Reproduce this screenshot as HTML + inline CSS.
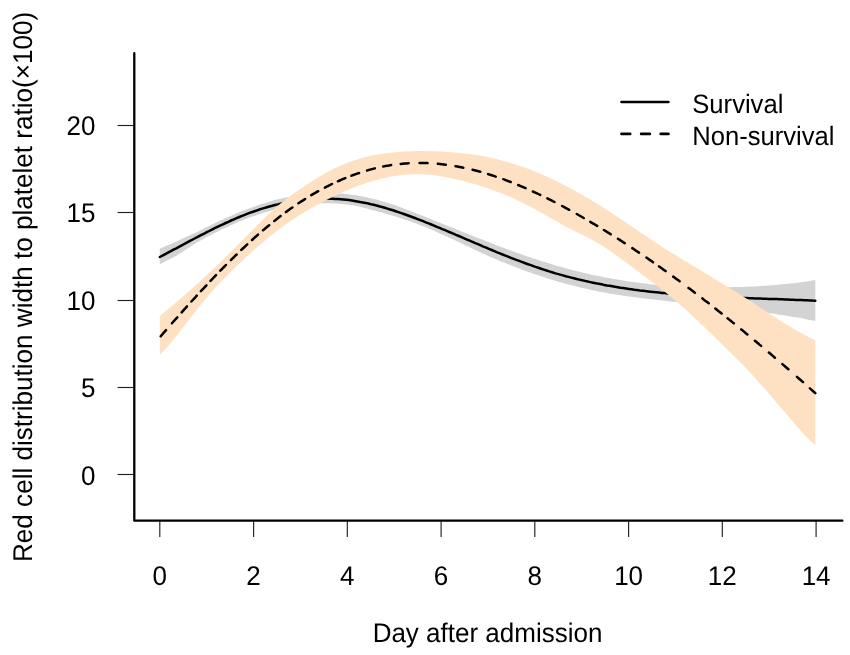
<!DOCTYPE html>
<html><head><meta charset="utf-8"><style>
html,body{margin:0;padding:0;background:#fff;}
svg{display:block;filter:blur(0.3px);}
text{font-family:"Liberation Sans",sans-serif;font-size:26px;fill:#000;text-rendering:geometricPrecision;}
</style></head><body>
<svg width="850" height="655" viewBox="0 0 850 655">
<rect width="850" height="655" fill="#fff"/>
<path d="M159.8,248.7 L162.5,247.5 L165.3,246.3 L168.0,245.1 L170.8,243.9 L173.5,242.7 L176.3,241.5 L179.0,240.2 L181.7,239.0 L184.5,237.8 L187.2,236.5 L190.0,235.3 L192.7,234.0 L195.5,232.7 L198.2,231.4 L200.9,230.0 L203.7,228.6 L206.4,227.3 L209.2,225.9 L211.9,224.6 L214.7,223.2 L217.4,221.9 L220.1,220.6 L222.9,219.4 L225.6,218.1 L228.4,216.9 L231.1,215.7 L233.9,214.5 L236.6,213.3 L239.3,212.2 L242.1,211.1 L244.8,210.0 L247.6,208.9 L250.3,207.9 L253.1,206.9 L255.8,205.9 L258.5,205.0 L261.3,204.1 L264.0,203.2 L266.8,202.4 L269.5,201.6 L272.2,200.8 L275.0,200.1 L277.7,199.3 L280.5,198.7 L283.2,198.0 L286.0,197.4 L288.7,196.9 L291.4,196.3 L294.2,195.9 L296.9,195.4 L299.7,195.0 L302.4,194.6 L305.2,194.3 L307.9,194.0 L310.6,193.8 L313.4,193.5 L316.1,193.4 L318.9,193.2 L321.6,193.1 L324.4,193.0 L327.1,193.0 L329.8,193.0 L332.6,193.1 L335.3,193.2 L338.1,193.3 L340.8,193.5 L343.6,193.8 L346.3,194.0 L349.0,194.3 L351.8,194.7 L354.5,195.1 L357.3,195.5 L360.0,196.0 L362.8,196.5 L365.5,197.1 L368.2,197.7 L371.0,198.3 L373.7,198.9 L376.5,199.6 L379.2,200.4 L382.0,201.2 L384.7,202.0 L387.4,202.8 L390.2,203.7 L392.9,204.6 L395.7,205.6 L398.4,206.6 L401.2,207.5 L403.9,208.6 L406.6,209.6 L409.4,210.6 L412.1,211.7 L414.9,212.8 L417.6,213.9 L420.4,214.9 L423.1,216.0 L425.8,217.1 L428.6,218.2 L431.3,219.3 L434.1,220.4 L436.8,221.5 L439.6,222.6 L442.3,223.7 L445.0,224.8 L447.8,225.9 L450.5,227.0 L453.3,228.1 L456.0,229.2 L458.8,230.3 L461.5,231.4 L464.2,232.5 L467.0,233.6 L469.7,234.7 L472.5,235.8 L475.2,236.9 L478.0,237.9 L480.7,239.0 L483.4,240.1 L486.2,241.2 L488.9,242.2 L491.7,243.3 L494.4,244.4 L497.1,245.4 L499.9,246.5 L502.6,247.5 L505.4,248.6 L508.1,249.6 L510.9,250.6 L513.6,251.6 L516.3,252.6 L519.1,253.5 L521.8,254.5 L524.6,255.4 L527.3,256.4 L530.1,257.3 L532.8,258.2 L535.5,259.1 L538.3,260.0 L541.0,260.9 L543.8,261.8 L546.5,262.6 L549.3,263.5 L552.0,264.3 L554.7,265.2 L557.5,266.0 L560.2,266.8 L563.0,267.5 L565.7,268.3 L568.5,269.0 L571.2,269.8 L573.9,270.5 L576.7,271.2 L579.4,271.8 L582.2,272.5 L584.9,273.1 L587.7,273.8 L590.4,274.4 L593.1,275.0 L595.9,275.5 L598.6,276.1 L601.4,276.6 L604.1,277.2 L606.9,277.7 L609.6,278.2 L612.3,278.7 L615.1,279.2 L617.8,279.6 L620.6,280.1 L623.3,280.5 L626.1,280.9 L628.8,281.4 L631.5,281.8 L634.3,282.1 L637.0,282.5 L639.8,282.9 L642.5,283.2 L645.3,283.6 L648.0,283.9 L650.7,284.2 L653.5,284.5 L656.2,284.8 L659.0,285.0 L661.7,285.2 L664.5,285.5 L667.2,285.7 L669.9,285.8 L672.7,286.0 L675.4,286.2 L678.2,286.3 L680.9,286.4 L683.7,286.5 L686.4,286.6 L689.1,286.7 L691.9,286.8 L694.6,286.9 L697.4,287.0 L700.1,287.1 L702.9,287.1 L705.6,287.2 L708.3,287.2 L711.1,287.2 L713.8,287.3 L716.6,287.3 L719.3,287.3 L722.0,287.3 L724.8,287.2 L727.5,287.2 L730.3,287.2 L733.0,287.1 L735.8,287.0 L738.5,287.0 L741.2,286.9 L744.0,286.8 L746.7,286.7 L749.5,286.6 L752.2,286.5 L755.0,286.4 L757.7,286.2 L760.4,286.1 L763.2,285.9 L765.9,285.7 L768.7,285.5 L771.4,285.3 L774.2,285.1 L776.9,284.8 L779.6,284.6 L782.4,284.3 L785.1,284.1 L787.9,283.8 L790.6,283.5 L793.4,283.2 L796.1,282.9 L798.8,282.6 L801.6,282.2 L804.3,281.8 L807.1,281.4 L809.8,280.9 L812.6,280.4 L815.3,279.9 L815.3,321.1 L812.6,320.5 L809.8,319.9 L807.1,319.4 L804.3,318.8 L801.6,318.3 L798.8,317.8 L796.1,317.3 L793.4,316.9 L790.6,316.4 L787.9,316.0 L785.1,315.5 L782.4,315.1 L779.6,314.7 L776.9,314.3 L774.2,313.8 L771.4,313.4 L768.7,313.0 L765.9,312.7 L763.2,312.3 L760.4,311.9 L757.7,311.6 L755.0,311.2 L752.2,310.9 L749.5,310.5 L746.7,310.2 L744.0,309.9 L741.2,309.5 L738.5,309.2 L735.8,308.9 L733.0,308.5 L730.3,308.2 L727.5,307.9 L724.8,307.6 L722.0,307.3 L719.3,306.9 L716.6,306.6 L713.8,306.3 L711.1,306.0 L708.3,305.7 L705.6,305.4 L702.9,305.1 L700.1,304.9 L697.4,304.6 L694.6,304.3 L691.9,304.0 L689.1,303.7 L686.4,303.4 L683.7,303.1 L680.9,302.7 L678.2,302.4 L675.4,302.1 L672.7,301.8 L669.9,301.4 L667.2,301.1 L664.5,300.8 L661.7,300.5 L659.0,300.2 L656.2,299.8 L653.5,299.5 L650.7,299.2 L648.0,298.9 L645.3,298.6 L642.5,298.2 L639.8,297.9 L637.0,297.6 L634.3,297.2 L631.5,296.8 L628.8,296.4 L626.1,296.1 L623.3,295.7 L620.6,295.2 L617.8,294.8 L615.1,294.4 L612.3,293.9 L609.6,293.4 L606.9,293.0 L604.1,292.5 L601.4,291.9 L598.6,291.4 L595.9,290.9 L593.1,290.3 L590.4,289.7 L587.7,289.1 L584.9,288.5 L582.2,287.9 L579.4,287.2 L576.7,286.5 L573.9,285.8 L571.2,285.1 L568.5,284.4 L565.7,283.7 L563.0,282.9 L560.2,282.2 L557.5,281.4 L554.7,280.6 L552.0,279.7 L549.3,278.9 L546.5,278.0 L543.8,277.1 L541.0,276.2 L538.3,275.3 L535.5,274.4 L532.8,273.4 L530.1,272.4 L527.3,271.5 L524.6,270.5 L521.8,269.4 L519.1,268.4 L516.3,267.4 L513.6,266.3 L510.9,265.3 L508.1,264.2 L505.4,263.1 L502.6,262.0 L499.9,260.9 L497.1,259.8 L494.4,258.6 L491.7,257.4 L488.9,256.2 L486.2,255.0 L483.4,253.8 L480.7,252.5 L478.0,251.2 L475.2,249.9 L472.5,248.7 L469.7,247.3 L467.0,246.0 L464.2,244.7 L461.5,243.4 L458.8,242.1 L456.0,240.8 L453.3,239.5 L450.5,238.2 L447.8,236.9 L445.0,235.7 L442.3,234.4 L439.6,233.2 L436.8,231.9 L434.1,230.8 L431.3,229.6 L428.6,228.4 L425.8,227.3 L423.1,226.2 L420.4,225.2 L417.6,224.1 L414.9,223.1 L412.1,222.1 L409.4,221.1 L406.6,220.2 L403.9,219.3 L401.2,218.4 L398.4,217.5 L395.7,216.6 L392.9,215.8 L390.2,214.9 L387.4,214.1 L384.7,213.4 L382.0,212.6 L379.2,211.9 L376.5,211.1 L373.7,210.4 L371.0,209.7 L368.2,209.0 L365.5,208.2 L362.8,207.5 L360.0,206.8 L357.3,206.2 L354.5,205.6 L351.8,205.1 L349.0,204.7 L346.3,204.4 L343.6,204.1 L340.8,203.9 L338.1,203.7 L335.3,203.5 L332.6,203.4 L329.8,203.3 L327.1,203.2 L324.4,203.2 L321.6,203.3 L318.9,203.3 L316.1,203.4 L313.4,203.6 L310.6,203.8 L307.9,204.0 L305.2,204.3 L302.4,204.6 L299.7,204.9 L296.9,205.3 L294.2,205.7 L291.4,206.2 L288.7,206.6 L286.0,207.2 L283.2,207.7 L280.5,208.3 L277.7,209.0 L275.0,209.6 L272.2,210.4 L269.5,211.1 L266.8,211.9 L264.0,212.7 L261.3,213.5 L258.5,214.4 L255.8,215.4 L253.1,216.3 L250.3,217.3 L247.6,218.3 L244.8,219.4 L242.1,220.5 L239.3,221.6 L236.6,222.8 L233.9,224.0 L231.1,225.2 L228.4,226.4 L225.6,227.7 L222.9,229.0 L220.1,230.3 L217.4,231.7 L214.7,233.0 L211.9,234.4 L209.2,235.8 L206.4,237.3 L203.7,238.7 L200.9,240.2 L198.2,241.7 L195.5,243.3 L192.7,245.1 L190.0,246.9 L187.2,248.7 L184.5,250.6 L181.7,252.4 L179.0,254.1 L176.3,255.7 L173.5,257.2 L170.8,258.7 L168.0,260.1 L165.3,261.6 L162.5,263.0 L159.8,264.3 Z" fill="#d3d3d3"/>
<path d="M159.8,257.0 L162.5,255.6 L165.3,254.1 L168.0,252.6 L170.8,251.2 L173.5,249.7 L176.3,248.3 L179.0,246.8 L181.7,245.3 L184.5,243.9 L187.2,242.4 L190.0,240.9 L192.7,239.5 L195.5,238.0 L198.2,236.6 L200.9,235.2 L203.7,233.8 L206.4,232.4 L209.2,231.0 L211.9,229.6 L214.7,228.2 L217.4,226.9 L220.1,225.6 L222.9,224.3 L225.6,223.0 L228.4,221.8 L231.1,220.5 L233.9,219.3 L236.6,218.1 L239.3,217.0 L242.1,215.9 L244.8,214.8 L247.6,213.7 L250.3,212.7 L253.1,211.7 L255.8,210.8 L258.5,209.8 L261.3,208.9 L264.0,208.1 L266.8,207.3 L269.5,206.5 L272.2,205.8 L275.0,205.0 L277.7,204.4 L280.5,203.7 L283.2,203.1 L286.0,202.6 L288.7,202.0 L291.4,201.6 L294.2,201.1 L296.9,200.7 L299.7,200.3 L302.4,200.0 L305.2,199.7 L307.9,199.4 L310.6,199.2 L313.4,199.0 L316.1,198.8 L318.9,198.7 L321.6,198.7 L324.4,198.6 L327.1,198.6 L329.8,198.7 L332.6,198.8 L335.3,198.9 L338.1,199.1 L340.8,199.3 L343.6,199.5 L346.3,199.8 L349.0,200.1 L351.8,200.5 L354.5,200.9 L357.3,201.4 L360.0,201.9 L362.8,202.4 L365.5,202.9 L368.2,203.5 L371.0,204.2 L373.7,204.8 L376.5,205.5 L379.2,206.3 L382.0,207.0 L384.7,207.8 L387.4,208.6 L390.2,209.5 L392.9,210.3 L395.7,211.2 L398.4,212.1 L401.2,213.1 L403.9,214.0 L406.6,215.0 L409.4,216.0 L412.1,217.0 L414.9,218.0 L417.6,219.1 L420.4,220.2 L423.1,221.2 L425.8,222.3 L428.6,223.4 L431.3,224.5 L434.1,225.7 L436.8,226.8 L439.6,227.9 L442.3,229.1 L445.0,230.2 L447.8,231.4 L450.5,232.5 L453.3,233.7 L456.0,234.9 L458.8,236.0 L461.5,237.2 L464.2,238.4 L467.0,239.6 L469.7,240.7 L472.5,241.9 L475.2,243.1 L478.0,244.2 L480.7,245.4 L483.4,246.6 L486.2,247.7 L488.9,248.9 L491.7,250.0 L494.4,251.1 L497.1,252.3 L499.9,253.4 L502.6,254.5 L505.4,255.6 L508.1,256.7 L510.9,257.8 L513.6,258.8 L516.3,259.9 L519.1,260.9 L521.8,261.9 L524.6,263.0 L527.3,264.0 L530.1,264.9 L532.8,265.9 L535.5,266.9 L538.3,267.8 L541.0,268.7 L543.8,269.6 L546.5,270.5 L549.3,271.4 L552.0,272.2 L554.7,273.1 L557.5,273.9 L560.2,274.6 L563.0,275.4 L565.7,276.2 L568.5,276.9 L571.2,277.6 L573.9,278.3 L576.7,279.0 L579.4,279.6 L582.2,280.3 L584.9,280.9 L587.7,281.5 L590.4,282.1 L593.1,282.7 L595.9,283.3 L598.6,283.8 L601.4,284.3 L604.1,284.9 L606.9,285.4 L609.6,285.8 L612.3,286.3 L615.1,286.8 L617.8,287.2 L620.6,287.7 L623.3,288.1 L626.1,288.5 L628.8,288.9 L631.5,289.3 L634.3,289.7 L637.0,290.0 L639.8,290.4 L642.5,290.7 L645.3,291.1 L648.0,291.4 L650.7,291.7 L653.5,292.0 L656.2,292.3 L659.0,292.6 L661.7,292.9 L664.5,293.1 L667.2,293.4 L669.9,293.6 L672.7,293.9 L675.4,294.1 L678.2,294.3 L680.9,294.5 L683.7,294.7 L686.4,294.9 L689.1,295.1 L691.9,295.3 L694.6,295.5 L697.4,295.7 L700.1,295.9 L702.9,296.0 L705.6,296.2 L708.3,296.3 L711.1,296.5 L713.8,296.6 L716.6,296.8 L719.3,296.9 L722.0,297.0 L724.8,297.2 L727.5,297.3 L730.3,297.4 L733.0,297.5 L735.8,297.6 L738.5,297.7 L741.2,297.9 L744.0,298.0 L746.7,298.1 L749.5,298.2 L752.2,298.3 L755.0,298.4 L757.7,298.5 L760.4,298.6 L763.2,298.7 L765.9,298.8 L768.7,298.9 L771.4,299.0 L774.2,299.1 L776.9,299.1 L779.6,299.2 L782.4,299.3 L785.1,299.4 L787.9,299.5 L790.6,299.7 L793.4,299.8 L796.1,299.9 L798.8,300.0 L801.6,300.1 L804.3,300.2 L807.1,300.3 L809.8,300.4 L812.6,300.6 L815.3,300.7" fill="none" stroke="#000" stroke-width="2.5" stroke-linejoin="round" stroke-linecap="round"/>
<path d="M159.8,316.0 L162.5,313.8 L165.3,311.5 L168.0,309.2 L170.8,307.0 L173.5,304.7 L176.3,302.3 L179.0,300.0 L181.7,297.6 L184.5,295.2 L187.2,292.8 L190.0,290.4 L192.7,287.9 L195.5,285.5 L198.2,283.0 L200.9,280.5 L203.7,277.9 L206.4,275.4 L209.2,272.8 L211.9,270.3 L214.7,267.7 L217.4,265.0 L220.1,262.4 L222.9,259.7 L225.6,257.1 L228.4,254.4 L231.1,251.7 L233.9,248.9 L236.6,246.2 L239.3,243.4 L242.1,240.6 L244.8,237.8 L247.6,235.0 L250.3,232.2 L253.1,229.4 L255.8,226.7 L258.5,223.9 L261.3,221.2 L264.0,218.5 L266.8,215.8 L269.5,213.3 L272.2,210.7 L275.0,208.3 L277.7,205.9 L280.5,203.6 L283.2,201.4 L286.0,199.2 L288.7,197.1 L291.4,195.1 L294.2,193.1 L296.9,191.2 L299.7,189.2 L302.4,187.4 L305.2,185.5 L307.9,183.7 L310.6,182.0 L313.4,180.2 L316.1,178.6 L318.9,176.9 L321.6,175.3 L324.4,173.8 L327.1,172.3 L329.8,170.8 L332.6,169.4 L335.3,168.1 L338.1,166.8 L340.8,165.5 L343.6,164.4 L346.3,163.2 L349.0,162.2 L351.8,161.2 L354.5,160.2 L357.3,159.4 L360.0,158.5 L362.8,157.8 L365.5,157.1 L368.2,156.4 L371.0,155.8 L373.7,155.2 L376.5,154.7 L379.2,154.2 L382.0,153.8 L384.7,153.4 L387.4,153.0 L390.2,152.7 L392.9,152.4 L395.7,152.2 L398.4,152.0 L401.2,151.8 L403.9,151.6 L406.6,151.4 L409.4,151.3 L412.1,151.2 L414.9,151.1 L417.6,151.1 L420.4,151.1 L423.1,151.1 L425.8,151.1 L428.6,151.1 L431.3,151.2 L434.1,151.3 L436.8,151.4 L439.6,151.5 L442.3,151.6 L445.0,151.8 L447.8,152.0 L450.5,152.2 L453.3,152.4 L456.0,152.6 L458.8,152.9 L461.5,153.1 L464.2,153.4 L467.0,153.8 L469.7,154.1 L472.5,154.5 L475.2,154.9 L478.0,155.3 L480.7,155.8 L483.4,156.3 L486.2,156.8 L488.9,157.4 L491.7,158.0 L494.4,158.6 L497.1,159.3 L499.9,160.0 L502.6,160.7 L505.4,161.4 L508.1,162.2 L510.9,163.0 L513.6,163.9 L516.3,164.7 L519.1,165.7 L521.8,166.6 L524.6,167.6 L527.3,168.6 L530.1,169.6 L532.8,170.7 L535.5,171.8 L538.3,172.9 L541.0,174.1 L543.8,175.3 L546.5,176.5 L549.3,177.7 L552.0,179.0 L554.7,180.3 L557.5,181.7 L560.2,183.0 L563.0,184.4 L565.7,185.8 L568.5,187.3 L571.2,188.8 L573.9,190.3 L576.7,191.8 L579.4,193.3 L582.2,194.9 L584.9,196.5 L587.7,198.1 L590.4,199.7 L593.1,201.4 L595.9,203.1 L598.6,204.8 L601.4,206.5 L604.1,208.2 L606.9,210.0 L609.6,211.7 L612.3,213.5 L615.1,215.3 L617.8,217.1 L620.6,219.0 L623.3,220.8 L626.1,222.7 L628.8,224.5 L631.5,226.4 L634.3,228.2 L637.0,230.1 L639.8,232.0 L642.5,233.8 L645.3,235.7 L648.0,237.5 L650.7,239.4 L653.5,241.2 L656.2,243.0 L659.0,244.7 L661.7,246.5 L664.5,248.3 L667.2,250.0 L669.9,251.7 L672.7,253.4 L675.4,255.1 L678.2,256.8 L680.9,258.5 L683.7,260.2 L686.4,261.8 L689.1,263.5 L691.9,265.2 L694.6,266.8 L697.4,268.5 L700.1,270.1 L702.9,271.8 L705.6,273.4 L708.3,275.1 L711.1,276.7 L713.8,278.4 L716.6,280.0 L719.3,281.7 L722.0,283.4 L724.8,285.0 L727.5,286.7 L730.3,288.4 L733.0,290.1 L735.8,291.8 L738.5,293.5 L741.2,295.3 L744.0,297.0 L746.7,298.8 L749.5,300.5 L752.2,302.3 L755.0,304.1 L757.7,305.9 L760.4,307.7 L763.2,309.5 L765.9,311.3 L768.7,313.2 L771.4,315.0 L774.2,316.7 L776.9,318.5 L779.6,320.3 L782.4,322.0 L785.1,323.7 L787.9,325.4 L790.6,327.1 L793.4,328.7 L796.1,330.3 L798.8,331.8 L801.6,333.3 L804.3,334.8 L807.1,336.2 L809.8,337.6 L812.6,338.9 L815.3,340.1 L815.3,444.8 L812.6,442.8 L809.8,440.3 L807.1,437.6 L804.3,434.7 L801.6,431.7 L798.8,428.6 L796.1,425.4 L793.4,422.2 L790.6,419.0 L787.9,415.8 L785.1,412.6 L782.4,409.4 L779.6,406.1 L776.9,402.9 L774.2,399.7 L771.4,396.5 L768.7,393.3 L765.9,390.1 L763.2,387.0 L760.4,383.9 L757.7,380.8 L755.0,377.8 L752.2,374.8 L749.5,371.8 L746.7,369.0 L744.0,366.1 L741.2,363.3 L738.5,360.6 L735.8,357.8 L733.0,355.1 L730.3,352.4 L727.5,349.7 L724.8,347.0 L722.0,344.3 L719.3,341.7 L716.6,339.0 L713.8,336.3 L711.1,333.6 L708.3,331.0 L705.6,328.3 L702.9,325.7 L700.1,323.1 L697.4,320.5 L694.6,317.9 L691.9,315.3 L689.1,312.8 L686.4,310.3 L683.7,307.8 L680.9,305.4 L678.2,303.0 L675.4,300.7 L672.7,298.3 L669.9,296.1 L667.2,293.8 L664.5,291.6 L661.7,289.4 L659.0,287.3 L656.2,285.1 L653.5,283.0 L650.7,280.9 L648.0,278.9 L645.3,276.8 L642.5,274.8 L639.8,272.7 L637.0,270.7 L634.3,268.7 L631.5,266.6 L628.8,264.6 L626.1,262.6 L623.3,260.5 L620.6,258.5 L617.8,256.5 L615.1,254.5 L612.3,252.5 L609.6,250.6 L606.9,248.7 L604.1,246.9 L601.4,245.1 L598.6,243.5 L595.9,241.9 L593.1,240.4 L590.4,239.0 L587.7,237.6 L584.9,236.2 L582.2,234.8 L579.4,233.5 L576.7,232.1 L573.9,230.7 L571.2,229.3 L568.5,227.9 L565.7,226.4 L563.0,224.9 L560.2,223.4 L557.5,221.8 L554.7,220.3 L552.0,218.8 L549.3,217.2 L546.5,215.7 L543.8,214.1 L541.0,212.6 L538.3,211.1 L535.5,209.5 L532.8,208.1 L530.1,206.6 L527.3,205.2 L524.6,203.8 L521.8,202.4 L519.1,201.1 L516.3,199.8 L513.6,198.5 L510.9,197.3 L508.1,196.1 L505.4,195.0 L502.6,193.8 L499.9,192.7 L497.1,191.7 L494.4,190.7 L491.7,189.7 L488.9,188.7 L486.2,187.8 L483.4,186.9 L480.7,186.0 L478.0,185.1 L475.2,184.3 L472.5,183.5 L469.7,182.8 L467.0,182.0 L464.2,181.3 L461.5,180.6 L458.8,179.9 L456.0,179.2 L453.3,178.6 L450.5,178.0 L447.8,177.4 L445.0,176.9 L442.3,176.4 L439.6,176.0 L436.8,175.5 L434.1,175.2 L431.3,174.9 L428.6,174.6 L425.8,174.4 L423.1,174.3 L420.4,174.2 L417.6,174.2 L414.9,174.2 L412.1,174.3 L409.4,174.4 L406.6,174.6 L403.9,174.8 L401.2,175.1 L398.4,175.5 L395.7,175.9 L392.9,176.3 L390.2,176.8 L387.4,177.3 L384.7,177.9 L382.0,178.5 L379.2,179.2 L376.5,179.9 L373.7,180.7 L371.0,181.5 L368.2,182.3 L365.5,183.2 L362.8,184.2 L360.0,185.1 L357.3,186.1 L354.5,187.2 L351.8,188.3 L349.0,189.4 L346.3,190.5 L343.6,191.7 L340.8,193.0 L338.1,194.2 L335.3,195.5 L332.6,196.8 L329.8,198.2 L327.1,199.6 L324.4,201.0 L321.6,202.4 L318.9,203.9 L316.1,205.4 L313.4,206.9 L310.6,208.5 L307.9,210.1 L305.2,211.7 L302.4,213.4 L299.7,215.1 L296.9,216.9 L294.2,218.7 L291.4,220.5 L288.7,222.4 L286.0,224.3 L283.2,226.2 L280.5,228.2 L277.7,230.3 L275.0,232.4 L272.2,234.5 L269.5,236.7 L266.8,239.0 L264.0,241.3 L261.3,243.6 L258.5,245.9 L255.8,248.3 L253.1,250.8 L250.3,253.3 L247.6,255.8 L244.8,258.3 L242.1,260.9 L239.3,263.5 L236.6,266.1 L233.9,268.8 L231.1,271.4 L228.4,274.2 L225.6,277.0 L222.9,279.8 L220.1,282.7 L217.4,285.6 L214.7,288.6 L211.9,291.6 L209.2,294.7 L206.4,297.9 L203.7,301.2 L200.9,304.5 L198.2,307.9 L195.5,311.4 L192.7,314.9 L190.0,318.5 L187.2,322.0 L184.5,325.6 L181.7,329.2 L179.0,332.7 L176.3,336.2 L173.5,339.5 L170.8,342.8 L168.0,346.0 L165.3,349.1 L162.5,352.0 L159.8,354.8 Z" fill="#fde1c2"/>
<path d="M160.7,336.2 L162.0,334.7 L163.3,333.2 L164.7,331.7 L166.0,330.1 M172.0,323.3 L173.3,321.8 L174.6,320.3 L175.9,318.8 L177.3,317.3 M181.7,312.4 L183.0,310.9 L184.3,309.4 L185.7,307.9 L187.0,306.4 M191.4,301.5 L192.8,300.0 L194.1,298.6 L195.5,297.1 L196.8,295.6 M200.9,291.2 L202.3,289.7 L203.6,288.3 L205.0,286.8 L206.4,285.3 M210.5,280.9 L211.9,279.5 L213.3,278.0 L214.6,276.6 L216.0,275.1 M220.3,270.7 L221.7,269.3 L223.1,267.9 L224.5,266.5 L225.9,265.0 M230.9,260.1 L232.3,258.7 L233.7,257.3 L235.1,255.9 L236.6,254.5 M241.3,249.9 L242.8,248.5 L244.3,247.2 L245.7,245.8 L247.2,244.4 M252.1,240.0 L253.5,238.6 L255.0,237.3 L256.5,236.0 L258.0,234.6 M263.0,230.3 L264.6,229.0 L266.1,227.7 L267.6,226.4 L269.2,225.2 M274.3,221.0 L275.9,219.8 L277.4,218.5 L279.0,217.3 L280.6,216.1 M285.9,212.1 L287.5,210.9 L289.1,209.8 L290.8,208.6 L292.4,207.5 M298.4,203.3 L300.1,202.2 L301.8,201.2 L303.4,200.1 L305.1,199.0 M311.3,195.2 L313.0,194.2 L314.8,193.2 L316.5,192.2 L318.2,191.2 M324.9,187.6 L326.7,186.7 L328.4,185.8 L330.2,184.9 L332.0,184.0 M337.9,181.3 L339.7,180.5 L341.6,179.7 L343.4,178.9 L345.3,178.1 M351.4,175.7 L353.3,175.0 L355.2,174.3 L357.1,173.6 L359.0,173.0 M367.1,170.5 L369.0,169.9 L371.0,169.4 L372.9,168.9 L374.8,168.4 M383.2,166.5 L385.1,166.1 L387.1,165.8 L389.1,165.5 L391.1,165.1 M400.7,163.9 L402.7,163.7 L404.7,163.5 L406.7,163.4 L408.7,163.3 M419.5,162.9 L421.5,163.0 L423.5,163.0 L425.5,163.0 L427.5,163.1 M437.8,163.8 L439.8,164.0 L441.8,164.2 L443.8,164.4 L445.8,164.7 M455.5,166.2 L457.4,166.5 L459.4,166.9 L461.4,167.3 L463.3,167.7 M472.6,169.8 L474.6,170.3 L476.5,170.8 L478.4,171.3 L480.3,171.8 M488.1,174.1 L490.0,174.7 L491.9,175.3 L493.8,175.9 L495.7,176.6 M503.3,179.2 L505.1,179.9 L507.0,180.6 L508.9,181.3 L510.7,182.0 M518.2,185.0 L520.1,185.8 L521.9,186.6 L523.7,187.4 L525.6,188.2 M532.9,191.5 L534.7,192.3 L536.5,193.1 L538.3,194.0 L540.2,194.9 M547.4,198.4 L549.2,199.3 L551.0,200.2 L552.7,201.1 L554.5,202.0 M562.1,206.0 L563.9,206.9 L565.6,207.9 L567.4,208.8 L569.2,209.8 M576.8,214.0 L578.5,215.0 L580.3,216.0 L582.0,217.0 L583.7,218.0 M590.3,221.8 L592.0,222.8 L593.7,223.8 L595.4,224.9 L597.2,225.9 M603.9,230.0 L605.6,231.0 L607.3,232.1 L609.0,233.1 L610.7,234.2 M618.0,238.8 L619.7,239.9 L621.4,241.0 L623.0,242.1 L624.7,243.1 M632.3,248.1 L634.0,249.2 L635.7,250.4 L637.3,251.5 L639.0,252.6 M646.4,257.6 L648.1,258.8 L649.7,259.9 L651.4,261.1 L653.0,262.2 M659.0,266.4 L660.7,267.6 L662.3,268.7 L663.9,269.9 L665.6,271.1 M673.2,276.6 L674.8,277.7 L676.4,278.9 L678.0,280.1 L679.6,281.3 M688.5,287.9 L690.1,289.1 L691.7,290.3 L693.3,291.5 L694.9,292.7 M702.4,298.4 L703.9,299.7 L705.5,300.9 L707.1,302.1 L708.7,303.3 M715.3,308.5 L716.9,309.8 L718.4,311.0 L720.0,312.2 L721.6,313.5 M727.6,318.3 L729.2,319.6 L730.7,320.8 L732.3,322.1 L733.8,323.3 M741.2,329.4 L742.8,330.6 L744.3,331.9 L745.8,333.2 L747.4,334.4 M754.9,340.7 L756.5,342.0 L758.0,343.3 L759.5,344.6 L761.1,345.9 M768.9,352.5 L770.4,353.8 L771.9,355.1 L773.4,356.4 L774.9,357.7 M782.4,364.1 L783.9,365.4 L785.4,366.7 L786.9,368.0 L788.4,369.3 M797.0,376.9 L798.5,378.2 L800.0,379.5 L801.5,380.8 L803.0,382.2 M809.9,388.4 L811.3,389.6 L812.6,390.8 L814.0,392.0 L815.3,393.2" fill="none" stroke="#000" stroke-width="2.5" stroke-linecap="round" stroke-linejoin="round"/>
<path d="M134.3,53.2 L134.3,520.7 L842.4,520.7" fill="none" stroke="#000" stroke-width="2.3" stroke-linecap="round" stroke-linejoin="round"/>
<line x1="159.8" y1="521" x2="159.8" y2="537" stroke="#222" stroke-width="1.15"/>
<line x1="253.6" y1="521" x2="253.6" y2="537" stroke="#222" stroke-width="1.15"/>
<line x1="347.3" y1="521" x2="347.3" y2="537" stroke="#222" stroke-width="1.15"/>
<line x1="441.1" y1="521" x2="441.1" y2="537" stroke="#222" stroke-width="1.15"/>
<line x1="534.8" y1="521" x2="534.8" y2="537" stroke="#222" stroke-width="1.15"/>
<line x1="628.6" y1="521" x2="628.6" y2="537" stroke="#222" stroke-width="1.15"/>
<line x1="722.3" y1="521" x2="722.3" y2="537" stroke="#222" stroke-width="1.15"/>
<line x1="816.1" y1="521" x2="816.1" y2="537" stroke="#222" stroke-width="1.15"/>
<line x1="117.6" y1="474.5" x2="134" y2="474.5" stroke="#222" stroke-width="1.15"/>
<line x1="117.6" y1="387.5" x2="134" y2="387.5" stroke="#222" stroke-width="1.15"/>
<line x1="117.6" y1="300.5" x2="134" y2="300.5" stroke="#222" stroke-width="1.15"/>
<line x1="117.6" y1="212.5" x2="134" y2="212.5" stroke="#222" stroke-width="1.15"/>
<line x1="117.6" y1="125.5" x2="134" y2="125.5" stroke="#222" stroke-width="1.15"/>
<text transform="translate(159.8,584.9) scale(1,1.038)" text-anchor="middle">0</text>
<text transform="translate(253.6,584.9) scale(1,1.038)" text-anchor="middle">2</text>
<text transform="translate(347.3,584.9) scale(1,1.038)" text-anchor="middle">4</text>
<text transform="translate(441.1,584.9) scale(1,1.038)" text-anchor="middle">6</text>
<text transform="translate(534.8,584.9) scale(1,1.038)" text-anchor="middle">8</text>
<text transform="translate(628.6,584.9) scale(1,1.038)" text-anchor="middle">10</text>
<text transform="translate(722.3,584.9) scale(1,1.038)" text-anchor="middle">12</text>
<text transform="translate(816.1,584.9) scale(1,1.038)" text-anchor="middle">14</text>
<text transform="translate(95.5,484.5) scale(1,1.038)" text-anchor="end">0</text>
<text transform="translate(95.5,397.1) scale(1,1.038)" text-anchor="end">5</text>
<text transform="translate(95.5,309.6) scale(1,1.038)" text-anchor="end">10</text>
<text transform="translate(95.5,222.2) scale(1,1.038)" text-anchor="end">15</text>
<text transform="translate(95.5,134.8) scale(1,1.038)" text-anchor="end">20</text>
<text transform="translate(487.5,642.2) scale(1,1.038)" text-anchor="middle">Day after admission</text>
<text transform="translate(31.9,286.9) rotate(-90) scale(1,1.038)" text-anchor="middle" style="font-size:26.08px">Red cell distribution width to platelet ratio(×100)</text>
<line x1="621.5" y1="102" x2="668.4" y2="102" stroke="#000" stroke-width="2.6" stroke-linecap="round"/>
<line x1="621.5" y1="133.9" x2="668.5" y2="133.9" stroke="#000" stroke-width="2.6" stroke-dasharray="8.7 10.9" stroke-linecap="round"/>
<text transform="translate(692.3,112.7) scale(1,1.038)" style="font-size:25.6px">Survival</text>
<text transform="translate(692.3,144.7) scale(1,1.038)" style="font-size:25.6px">Non-survival</text>
</svg>
</body></html>
